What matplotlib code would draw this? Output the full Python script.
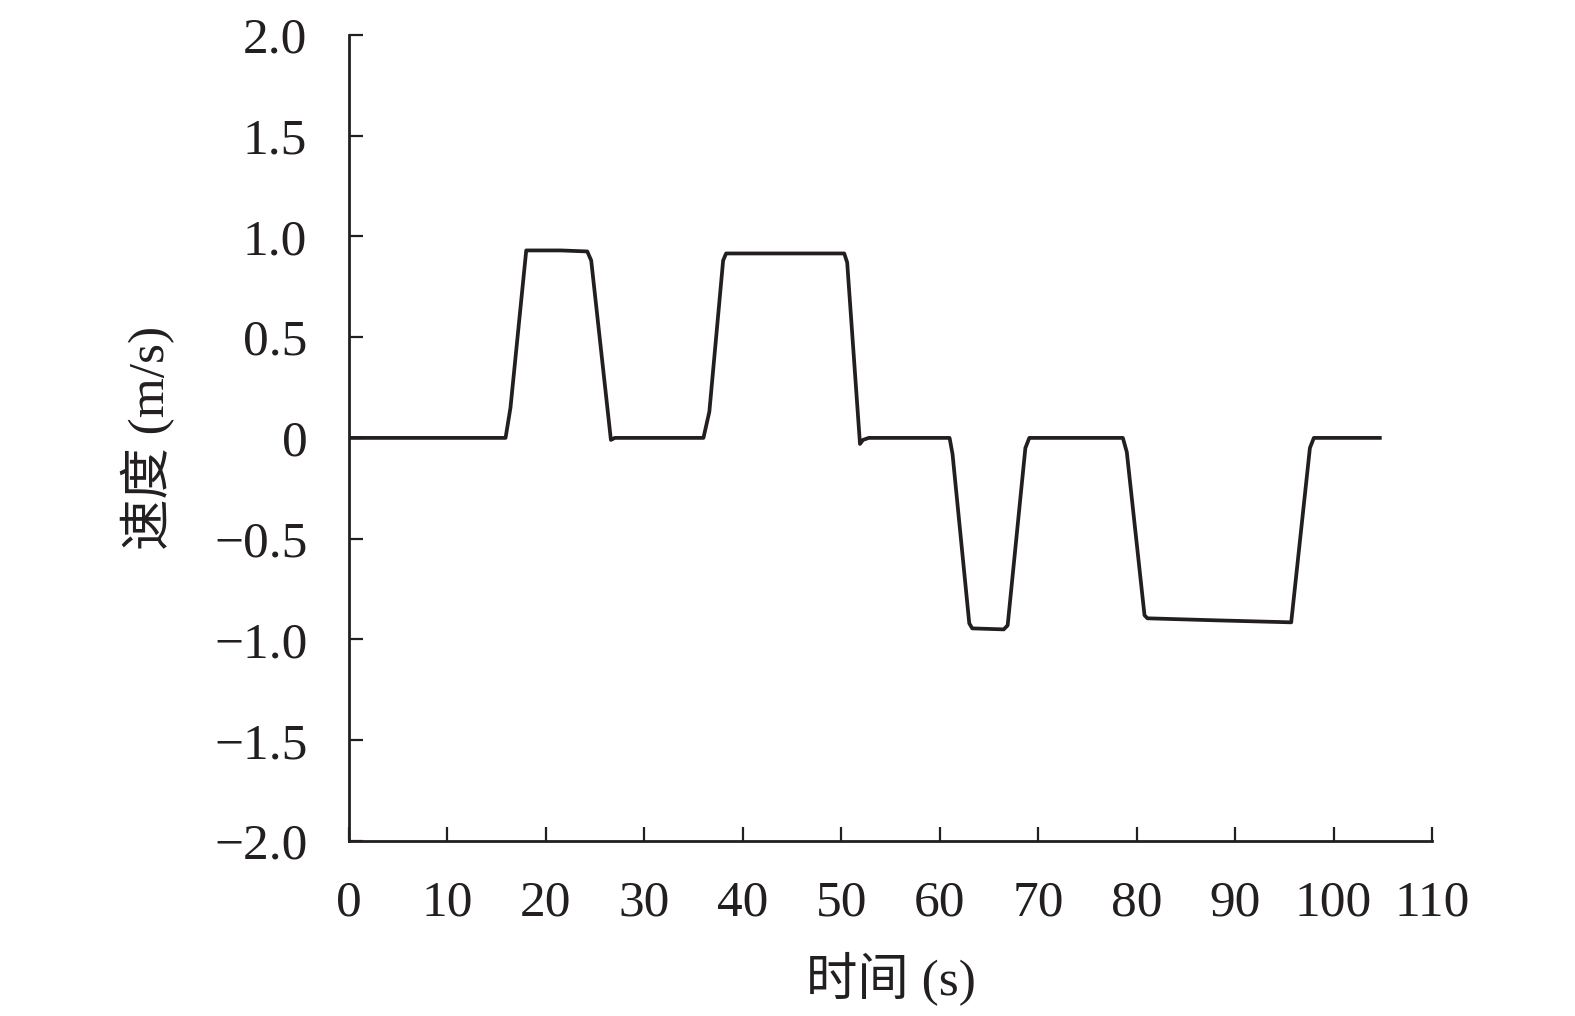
import matplotlib
matplotlib.use('Agg')
from matplotlib import pyplot as plt

plt.rcParams['font.family'] = ['Liberation Serif', 'Noto Sans CJK SC']
plt.rcParams['axes.unicode_minus'] = True

# time (s) and speed (m/s)
time_s = [0, 15.9, 16.4, 18.0, 21.5, 24.2, 24.6, 26.6, 27.0,
          36.0, 36.6, 38.0, 38.3, 50.3, 50.6, 51.9, 52.2, 52.8,
          61.0, 61.3, 63.0, 63.3, 66.5, 66.9, 68.7, 69.1,
          78.6, 79.0, 80.8, 81.1, 88.0, 95.7, 97.6, 98.0, 104.7]
speed = [0, 0, 0.15, 0.93, 0.93, 0.925, 0.88, -0.01, 0,
         0, 0.13, 0.88, 0.915, 0.915, 0.87, -0.03, -0.01, 0,
         0, -0.08, -0.92, -0.945, -0.95, -0.93, -0.05, 0,
         0, -0.07, -0.88, -0.895, -0.905, -0.915, -0.05, 0, 0]

xticks = list(range(0, 111, 10))
yticks = [-2.0, -1.5, -1.0, -0.5, 0, 0.5, 1.0, 1.5, 2.0]
ytick_labels = ['\u22122.0', '\u22121.5', '\u22121.0', '\u22120.5', '0',
                '0.5', '1.0', '1.5', '2.0']

fig = plt.figure(figsize=(15.75, 10.16), dpi=100)
ax = fig.add_axes([0.2216, 0.1722, 0.6876, 0.7936])
ax.plot(time_s, speed, color='#231f20', lw=2.7)

ax.set_xlim(0, 110)
ax.set_ylim(-2.0, 2.0)
ax.set_xticks(xticks)
ax.set_yticks(yticks)
ax.set_yticklabels(ytick_labels)
for s in ['top', 'right']:
    ax.spines[s].set_visible(False)
for s in ['left', 'bottom']:
    ax.spines[s].set_linewidth(2.0)
    ax.spines[s].set_color('#231f20')
ax.tick_params(direction='in', length=10, width=1.6, colors='#231f20',
               labelsize=37, labelcolor='#231f20')
ax.tick_params(axis='x', pad=28)
ax.tick_params(axis='y', pad=30)

ax.set_xlabel('时间 (s)', fontsize=37, color='#231f20', labelpad=18)
ax.set_ylabel('速度 (m/s)', fontsize=37, color='#231f20', labelpad=28)

fig.savefig('out.png', dpi=100)
